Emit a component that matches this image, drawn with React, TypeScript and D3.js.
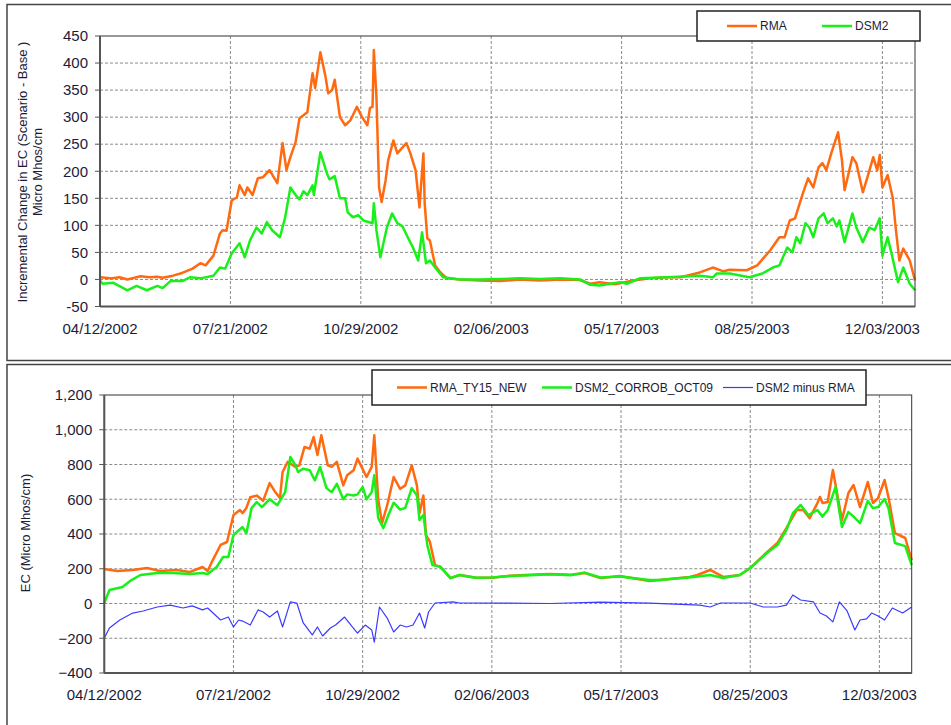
import React from "react";
import * as d3 from "d3";

type Pt = [number, number];

// ---------- DATA (day offset from 04/12/2002, value) ----------
const dateTickLabels = ["04/12/2002", "07/21/2002", "10/29/2002", "02/06/2003", "05/17/2003", "08/25/2003", "12/03/2003"];
const startDate = "04/12/2002";
const endDate = "12/28/2003";

const topYTicks = [-50, 0, 50, 100, 150, 200, 250, 300, 350, 400, 450];
const bottomYTicks = [-400, -200, 0, 200, 400, 600, 800, 1000, 1200];

const topSeriesNames = ["RMA", "DSM2"];
const bottomSeriesNames = ["RMA_TY15_NEW", "DSM2_CORROB_OCT09", "DSM2 minus RMA"];

const rmaTop: Pt[] = [
  [0, 4], [8, 2], [15, 4], [21, 0], [31, 6], [38, 4], [44, 5], [48, 3], [56, 7], [63, 12], [71, 20], [77, 30], [81, 26], [87, 44],
  [92, 85], [94, 91], [97, 90], [101, 146], [105, 152], [107, 174], [111, 156], [113, 170], [117, 156], [121, 187], [125, 189],
  [130, 202], [136, 178], [140, 252], [143, 202], [146, 226], [150, 254], [153, 298], [159, 309], [163, 381], [165, 354], [169, 420],
  [173, 374], [175, 344], [178, 350], [180, 369], [184, 300], [188, 285], [192, 294], [194, 304], [197, 319], [201, 300], [205, 285],
  [207, 317], [209, 319], [210, 424], [212, 337], [214, 170], [216, 143], [219, 183], [221, 220], [225, 257], [228, 233], [232, 244],
  [235, 252], [238, 233], [242, 202], [245, 133], [248, 233], [249, 141], [251, 76], [253, 72], [257, 26], [261, 13], [266, 2], [276, 0],
  [291, -2], [307, -3], [322, 0], [337, -2], [353, 0], [368, -1], [376, -8], [383, -5], [395, -9], [409, -2], [422, 2], [435, 4], [445, 4],
  [450, 7], [460, 13], [470, 22], [478, 15], [483, 18], [496, 17], [504, 26], [514, 54], [521, 78], [525, 78], [529, 109], [533, 113],
  [539, 159], [543, 187], [547, 170], [551, 207], [554, 215], [557, 202], [561, 235], [566, 272], [569, 220], [571, 165], [577, 226],
  [580, 215], [585, 161], [589, 193], [593, 226], [596, 202], [598, 230], [600, 170], [604, 193], [608, 150], [610, 100], [613, 35],
  [616, 57], [621, 35], [625, -2],
];

const dsm2Top: Pt[] = [
  [0, -2], [2, -8], [10, -6], [21, -20], [28, -12], [36, -20], [44, -12], [48, -16], [54, -3], [63, -3], [69, 4], [77, 2], [87, 7],
  [92, 22], [96, 20], [101, 48], [107, 67], [111, 41], [115, 72], [120, 96], [124, 85], [128, 106], [132, 91], [138, 78], [142, 115],
  [146, 170], [150, 156], [153, 148], [156, 163], [159, 156], [163, 174], [164, 156], [169, 235], [174, 196], [176, 185], [180, 191],
  [184, 150], [188, 150], [190, 124], [194, 115], [198, 119], [202, 109], [209, 104], [210, 141], [212, 91], [215, 41], [220, 96],
  [224, 122], [228, 104], [232, 98], [236, 78], [240, 59], [244, 35], [247, 87], [250, 30], [253, 35], [257, 22], [263, 4], [276, 0],
  [291, 0], [307, 1], [322, 2], [337, 1], [353, 2], [368, 0], [376, -10], [383, -11], [391, -8], [399, -5], [404, -8], [414, 2],
  [435, 4], [460, 7], [470, 4], [473, 11], [483, 11], [498, 4], [508, 11], [516, 22], [521, 26], [527, 59], [531, 50], [534, 78],
  [537, 67], [541, 104], [544, 96], [547, 78], [551, 113], [555, 122], [558, 104], [562, 113], [565, 98], [567, 109], [571, 69],
  [577, 122], [580, 96], [585, 69], [590, 96], [594, 91], [598, 113], [600, 44], [604, 78], [607, 48], [612, -5], [616, 22],
  [621, -8], [625, -20],
];

const rmaBottom: Pt[] = [
  [0, 198], [10, 187], [22, 193], [33, 204], [43, 187], [56, 193], [66, 181], [76, 210], [80, 187], [84, 250], [90, 337], [95, 354],
  [100, 509], [105, 538], [107, 520], [110, 550], [113, 612], [118, 621], [123, 592], [128, 693], [132, 645], [136, 607], [138, 757],
  [142, 815], [148, 786], [151, 795], [155, 901], [159, 891], [162, 958], [165, 855], [168, 968], [173, 795], [176, 786], [180, 815],
  [185, 680], [188, 738], [193, 767], [196, 834], [203, 728], [207, 786], [209, 968], [212, 600], [215, 462], [219, 566], [224, 728],
  [229, 660], [233, 680], [238, 795], [242, 680], [244, 520], [247, 622], [249, 394], [252, 356], [256, 221], [260, 212], [268, 146],
  [275, 164], [287, 150], [300, 148], [314, 160], [330, 165], [345, 170], [361, 165], [372, 175], [384, 146], [399, 158], [422, 129],
  [430, 135], [453, 153], [459, 164], [469, 193], [479, 153], [492, 164], [500, 204], [513, 296], [521, 348], [528, 434], [536, 538],
  [541, 538], [546, 491], [552, 578], [554, 613], [556, 578], [560, 584], [564, 768], [571, 480], [576, 636], [580, 682], [585, 555],
  [591, 699], [595, 578], [599, 607], [604, 711], [607, 613], [612, 405], [620, 377], [625, 250],
];

const dsm2Bottom: Pt[] = [
  [0, 3], [4, 78], [14, 95], [21, 135], [28, 164], [41, 175], [53, 175], [66, 170], [76, 175], [80, 170], [87, 210], [92, 268],
  [96, 268], [100, 394], [107, 440], [110, 404], [114, 549], [118, 584], [122, 555], [128, 600], [134, 566], [140, 641], [144, 843],
  [148, 795], [150, 757], [154, 776], [159, 767], [163, 709], [167, 786], [172, 664], [176, 641], [180, 689], [185, 600], [188, 628],
  [193, 622], [196, 628], [200, 670], [203, 600], [207, 641], [209, 738], [212, 493], [216, 434], [220, 511], [224, 580], [229, 540],
  [233, 550], [238, 664], [242, 622], [244, 480], [247, 510], [250, 337], [254, 221], [260, 212], [268, 146], [275, 164], [287, 148],
  [300, 150], [314, 158], [330, 163], [345, 168], [361, 162], [372, 178], [384, 150], [399, 155], [422, 135], [430, 135], [456, 153],
  [469, 164], [479, 147], [492, 164], [500, 204], [513, 290], [521, 336], [528, 422], [533, 520], [539, 567], [545, 509], [552, 538],
  [556, 500], [560, 538], [566, 670], [571, 440], [576, 526], [580, 500], [585, 462], [591, 590], [595, 549], [599, 555], [604, 601],
  [607, 549], [612, 348], [620, 330], [625, 221],
];

const diffBottom: Pt[] = [
  [0, -199], [4, -141], [12, -95], [22, -55], [30, -43], [41, -20], [51, -9], [61, -26], [68, -14], [76, -37], [80, -26], [90, -95],
  [96, -78], [100, -135], [104, -95], [107, -101], [113, -124], [119, -37], [123, -49], [128, -78], [134, -43], [138, -135], [144, 9],
  [149, 3], [154, -112], [161, -181], [165, -135], [169, -187], [175, -141], [179, -124], [186, -78], [192, -135], [196, -170],
  [202, -124], [207, -152], [209, -222], [213, -20], [219, -84], [224, -164], [229, -124], [234, -135], [239, -124], [244, -55],
  [248, -141], [251, -49], [256, 3], [270, 9], [275, 3], [306, 2], [345, 0], [384, 8], [422, 2], [461, -9], [469, -20], [477, 3],
  [500, 3], [510, -20], [521, -20], [528, -9], [533, 49], [539, 20], [549, 9], [554, -55], [559, -72], [564, -106], [569, 9],
  [575, -43], [581, -152], [585, -95], [590, -89], [594, -55], [599, -72], [604, -95], [610, -26], [618, -55], [625, -20],
];

// ---------- RENDERING ----------
const parse = d3.utcParse("%m/%d/%Y");
const fmtDate = d3.utcFormat("%m/%d/%Y");
const t0 = parse(startDate) as Date;
const t1 = parse(endDate) as Date;
const tickDates = dateTickLabels.map((s) => parse(s) as Date);

const FONT = "'Liberation Sans', Arial, sans-serif";
const TEXT = "#1c1c3a";
const ORANGE = "#ff6a10";
const GREEN = "#19f019";
const BLUE = "#3b3bff";

interface SeriesDef { data: Pt[]; color: string; width: number; }

interface PanelProps {
  box: { left: number; top: number; right: number; bottom: number };
  yTicks: number[];
  yFormat: (v: number) => string;
  series: SeriesDef[];
}

function Panel({ box, yTicks, yFormat, series }: PanelProps) {
  const x = d3.scaleUtc().domain([t0, t1]).range([box.left, box.right]);
  const y = d3.scaleLinear().domain([yTicks[0], yTicks[yTicks.length - 1]]).range([box.bottom, box.top]);
  const line = d3
    .line<Pt>()
    .x((d) => x(d3.utcDay.offset(t0, d[0])))
    .y((d) => y(d[1]));
  return (
    <g>
      {yTicks.slice(1, -1).map((v) => (
        <line key={"hg" + v} x1={box.left} x2={box.right} y1={y(v)} y2={y(v)} stroke="#8a8a8a" strokeWidth={1} strokeDasharray="3,2" />
      ))}
      {tickDates.slice(1).map((d, i) => (
        <line key={"vg" + i} x1={x(d)} x2={x(d)} y1={box.top} y2={box.bottom} stroke="#8a8a8a" strokeWidth={1} strokeDasharray="3,2" />
      ))}
      {series.map((s, i) => (
        <path key={i} d={line(s.data) || ""} fill="none" stroke={s.color} strokeWidth={s.width} strokeLinejoin="round" />
      ))}
      <rect x={box.left} y={box.top} width={box.right - box.left} height={box.bottom - box.top} fill="none" stroke="#333" strokeWidth={1} />
      <line x1={box.left} x2={box.left} y1={box.top} y2={box.bottom} stroke="#555" strokeWidth={2} />
      <line x1={box.left} x2={box.right} y1={box.bottom} y2={box.bottom} stroke="#555" strokeWidth={2} />
      {yTicks.map((v) => (
        <g key={"yt" + v}>
          <line x1={box.left - 5} x2={box.left} y1={y(v)} y2={y(v)} stroke="#555" strokeWidth={1} />
          <text x={box.left - 12} y={y(v)} dy="0.35em" textAnchor="end" fontFamily={FONT} fontSize={15} fill={TEXT}>
            {yFormat(v)}
          </text>
        </g>
      ))}
      {tickDates.map((d, i) => (
        <text key={"xt" + i} x={x(d)} y={box.bottom + 22} dy="0.35em" textAnchor="middle" fontFamily={FONT} fontSize={15} fill={TEXT}>
          {fmtDate(d)}
        </text>
      ))}
    </g>
  );
}

function Legend({ x, y, w, h, items }: { x: number; y: number; w: number; h: number; items: { label: string; color: string; width: number; lx: number }[] }) {
  return (
    <g>
      <rect x={x} y={y} width={w} height={h} fill="#fff" stroke="#222" strokeWidth={1.5} />
      {items.map((it, i) => (
        <g key={i}>
          <line x1={it.lx} x2={it.lx + 30} y1={y + h / 2} y2={y + h / 2} stroke={it.color} strokeWidth={it.width} />
          <text x={it.lx + 33} y={y + h / 2} dy="0.35em" fontFamily={FONT} fontSize={12} fill={TEXT}>
            {it.label}
          </text>
        </g>
      ))}
    </g>
  );
}

export default function App() {
  const fmtComma = d3.format(",");
  return (
    <svg width={951} height={725} style={{ position: "absolute", left: 0, top: 0, background: "#fff" }}>
      <rect x={0} y={0} width={951} height={725} fill="#fff" />
      {/* panel frames */}
      <rect x={7} y={4.5} width={960} height={356} fill="none" stroke="#444" strokeWidth={1.5} />
      <rect x={7} y={364.5} width={960} height={380} fill="none" stroke="#444" strokeWidth={1.5} />

      <Panel
        box={{ left: 100, top: 36, right: 915, bottom: 306.5 }}
        yTicks={topYTicks}
        yFormat={(v) => String(v)}
        series={[
          { data: rmaTop, color: ORANGE, width: 2.5 },
          { data: dsm2Top, color: GREEN, width: 2.5 },
        ]}
      />
      <text transform="translate(27,172) rotate(-90)" textAnchor="middle" fontFamily={FONT} fontSize={13} fill={TEXT}>
        Incremental Change in EC (Scenario - Base )
      </text>
      <text transform="translate(42,172) rotate(-90)" textAnchor="middle" fontFamily={FONT} fontSize={13} fill={TEXT}>
        Micro Mhos/cm
      </text>
      <Legend
        x={697}
        y={11}
        w={223}
        h={30}
        items={[
          { label: topSeriesNames[0], color: ORANGE, width: 2.5, lx: 727 },
          { label: topSeriesNames[1], color: GREEN, width: 2.5, lx: 822 },
        ]}
      />

      <Panel
        box={{ left: 104.3, top: 395, right: 911.7, bottom: 673 }}
        yTicks={bottomYTicks}
        yFormat={(v) => fmtComma(v)}
        series={[
          { data: rmaBottom, color: ORANGE, width: 2.5 },
          { data: dsm2Bottom, color: GREEN, width: 2.5 },
          { data: diffBottom, color: BLUE, width: 1.2 },
        ]}
      />
      <text transform="translate(30,533) rotate(-90)" textAnchor="middle" fontFamily={FONT} fontSize={13} fill={TEXT}>
        EC (Micro Mhos/cm)
      </text>
      <Legend
        x={372}
        y={370}
        w={494}
        h={35}
        items={[
          { label: bottomSeriesNames[0], color: ORANGE, width: 2.5, lx: 397 },
          { label: bottomSeriesNames[1], color: GREEN, width: 2.5, lx: 542 },
          { label: bottomSeriesNames[2], color: BLUE, width: 1.2, lx: 723 },
        ]}
      />
    </svg>
  );
}
